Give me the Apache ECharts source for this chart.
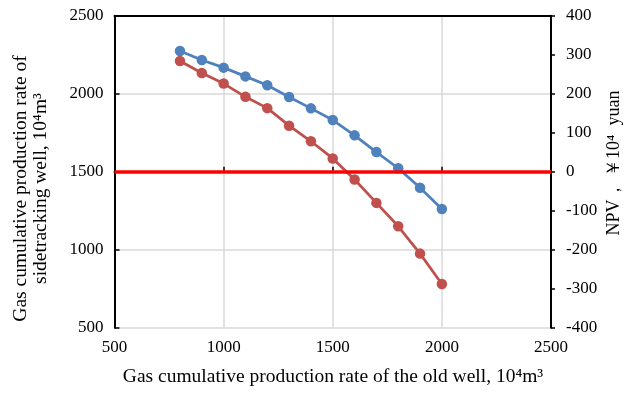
<!DOCTYPE html>
<html>
<head>
<meta charset="utf-8">
<script src="https://cdn.jsdelivr.net/npm/echarts@6/dist/echarts.min.js"></script>
<style>
  html, body { margin: 0; padding: 0; background: #fff; }
  #chart { width: 627px; height: 395px; }
</style>
</head>
<body>
<div id="chart"></div>
<script>
// Gas cumulative production of the old well (10^4 m^3)
const oldWellGas = [800, 900, 1000, 1100, 1200, 1300, 1400, 1500, 1600, 1700, 1800, 1900, 2000];
// Gas cumulative production of the sidetracking well (10^4 m^3), left axis
const sidetrackGas = [2274, 2216, 2167, 2111, 2054, 1979, 1906, 1831, 1733, 1626, 1522, 1397, 1261];
// NPV (10^4 yuan), right axis
const npv = [284, 253, 226, 192, 163, 118, 78, 34, -20, -80, -140, -210, -288];
// Break-even NPV level
const breakEvenNpv = 0;

const FONT = '"Liberation Serif", "Times New Roman", serif';
const axisLineStyle = { color: '#000', width: 2 };
const plainLabel = v => String(v);

const chart = echarts.init(document.getElementById('chart'), null, { renderer: 'canvas' });

chart.setOption({
  animation: false,
  backgroundColor: '#fff',
  grid: { left: 114.5, right: 76, top: 15.7, bottom: 67.3, containLabel: false },
  xAxis: [
    {
      type: 'value', min: 500, max: 2500, interval: 500, position: 'bottom',
      axisLine: { show: true, lineStyle: axisLineStyle },
      axisTick: { show: true, inside: true, length: 5, lineStyle: { color: '#000', width: 1.5 } },
      axisLabel: { color: '#000', fontFamily: FONT, fontSize: 17, margin: 11, formatter: plainLabel },
      splitLine: { show: true, lineStyle: { color: '#d9d9d9', width: 1.5 } },
      z: 2
    },
    {
      // top frame line
      type: 'value', min: 500, max: 2500, position: 'top',
      axisLine: { show: true, onZero: false, lineStyle: axisLineStyle },
      axisTick: { show: false }, axisLabel: { show: false }, splitLine: { show: false },
      z: 2
    }
  ],
  yAxis: [
    {
      type: 'value', min: 500, max: 2500, interval: 500, position: 'left',
      axisLine: { show: true, lineStyle: axisLineStyle },
      axisTick: { show: true, inside: true, length: 5, lineStyle: { color: '#000', width: 1.5 } },
      axisLabel: { color: '#000', fontFamily: FONT, fontSize: 17, margin: 11, formatter: plainLabel },
      splitLine: { show: true, lineStyle: { color: '#d9d9d9', width: 1.5 } },
      z: 2
    },
    {
      type: 'value', min: -400, max: 400, interval: 100, position: 'right',
      axisLine: { show: true, lineStyle: axisLineStyle },
      axisTick: { show: true, inside: false, length: 4, lineStyle: { color: '#000', width: 1.5 } },
      axisLabel: { color: '#000', fontFamily: FONT, fontSize: 17, margin: 15, formatter: plainLabel },
      splitLine: { show: false },
      z: 2
    }
  ],
  series: [
    {
      name: 'sidetrack',
      type: 'line',
      xAxisIndex: 0, yAxisIndex: 0,
      data: oldWellGas.map((x, i) => [x, sidetrackGas[i]]),
      symbol: 'circle', symbolSize: 10.5,
      lineStyle: { color: '#4F81BD', width: 2.75 },
      itemStyle: { color: '#4F81BD' },
      z: 3
    },
    {
      name: 'npv',
      type: 'line',
      xAxisIndex: 0, yAxisIndex: 1,
      data: oldWellGas.map((x, i) => [x, npv[i]]),
      symbol: 'circle', symbolSize: 10.5,
      lineStyle: { color: '#C0504D', width: 2.75 },
      itemStyle: { color: '#C0504D' },
      z: 3,
      markLine: {
        silent: true, symbol: 'none', label: { show: false },
        lineStyle: { color: '#FF0000', width: 3.5, type: 'solid' },
        data: [{ yAxis: breakEvenNpv }]
      }
    }
  ],
  graphic: [
    {
      type: 'text', x: 333, y: 377,
      style: {
        text: 'Gas cumulative production rate of the old well, 10\u2074m\u00B3',
        font: '19.5px ' + FONT, fill: '#000', align: 'center', verticalAlign: 'middle'
      }
    },
    {
      type: 'text', x: 30.5, y: 188.5, rotation: Math.PI / 2,
      style: {
        text: 'Gas cumulative production rate of\nsidetracking well, 10\u2074m\u00B3',
        font: '19.5px ' + FONT, fill: '#000', align: 'center', verticalAlign: 'middle',
        lineHeight: 20
      }
    },
    {
      type: 'text', x: 614, y: 163, rotation: Math.PI / 2,
      style: {
        text: 'NPV\uFF0C \uFFE510\u2074  yuan',
        font: '18px ' + FONT, fill: '#000', align: 'center', verticalAlign: 'middle'
      }
    }
  ]
});
</script>
</body>
</html>
